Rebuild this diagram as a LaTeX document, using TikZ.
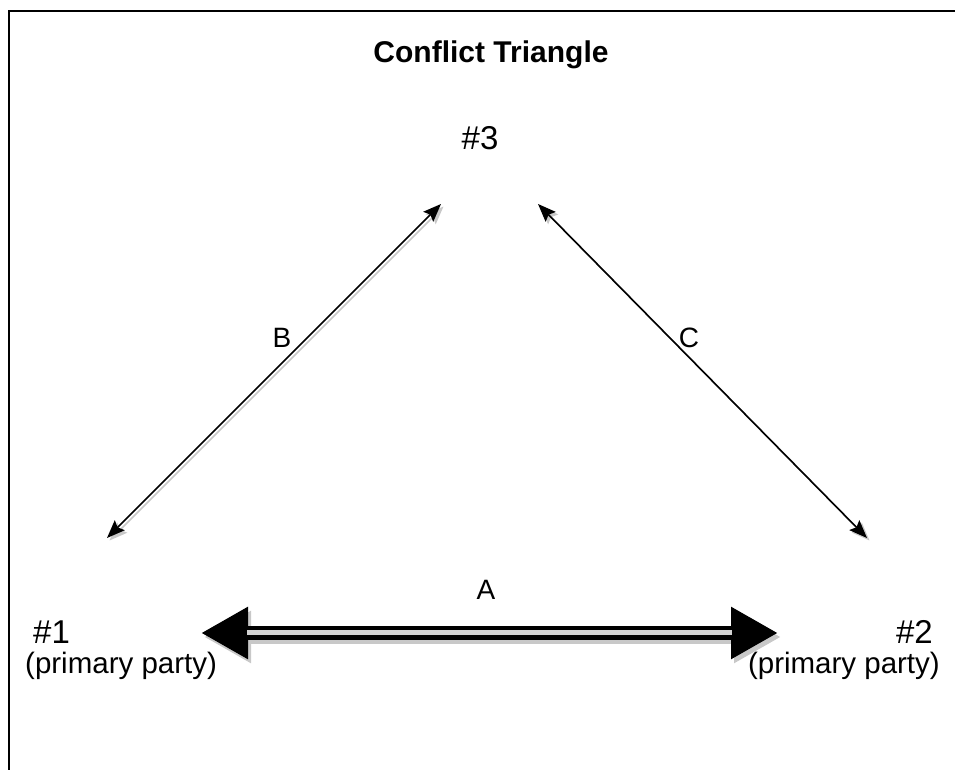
\documentclass[tikz,border=0pt]{standalone}
\usepackage{fontspec}
\setmainfont{Liberation Sans}
\usetikzlibrary{arrows.meta,positioning,calc}
\definecolor{ctShadow}{RGB}{200,200,200}
\definecolor{ctInner}{RGB}{210,210,210}
\tikzset{
    % Text labels
    ctTitle/.style={font=\fontsize{30}{34}\selectfont\bfseries, inner sep=0pt},
    ctParty/.style={font=\fontsize{33}{38}\selectfont, inner sep=0pt},
    ctSub/.style={font=\fontsize{29.5}{34}\selectfont, inner sep=0pt},
    ctLabel/.style={font=\fontsize{28}{32}\selectfont, inner sep=0pt},
    % Arrows
    ctThin/.style={{Stealth[length=18pt,width=14pt,inset=3pt]}-{Stealth[length=18pt,width=14pt,inset=3pt]}, line width=1.6pt, draw=black},
    ctThinShadow/.style={ctThin, draw=ctShadow, fill=ctShadow},
    ctThick/.style={{Triangle[length=47pt,width=49pt]}-{Triangle[length=47pt,width=49pt]}, line width=14pt, draw=black},
    ctThickShadow/.style={ctThick, draw=ctShadow}
}
\begin{document}
\begin{tikzpicture}[x=1pt,y=1pt]
\useasboundingbox (0,0) rectangle (955,770);
% Frame
\draw[line width=2pt] (9,0) -- (9,759) -- (955,759);

% Title and parties
\node[ctTitle] (title) at (491,715) {Conflict Triangle};
\node[ctParty] (p3) at (480,632) {\#3};
\node[ctParty, anchor=west] (p1) at (33,138) {\#1};
\node[ctSub, anchor=west] (p1s) at (25,104) {(primary party)};
\node[ctParty, anchor=east] (p2) at (933,138) {\#2};
\node[ctSub, anchor=east] (p2s) at (940,104) {(primary party)};

% Arrow ends
\coordinate (b1) at (107,232);
\coordinate (b3) at (441,566);
\coordinate (c3) at (538,566);
\coordinate (c2) at (867,232);
\coordinate (a1) at (201,137);
\coordinate (a2) at (778,137);

% B and C
\draw[ctThinShadow] ($(b1)+(2.5,-2.5)$) -- ($(b3)+(2.5,-2.5)$);
\draw[ctThin] (b1) -- (b3);
\draw[ctThinShadow] ($(c3)+(2.5,-2.5)$) -- ($(c2)+(2.5,-2.5)$);
\draw[ctThin] (c3) -- (c2);
\node[ctLabel] (lb) at (282,432) {B};
\node[ctLabel] (lc) at (689,432) {C};

% A
\draw[ctThickShadow] ($(a1)+(3,-4)$) -- ($(a2)+(3,-4)$);
\draw[ctThick] (a1) -- (a2);
\draw[line width=5pt, draw=ctInner, shorten <=46pt, shorten >=46pt] (a1) -- (a2);
\node[ctLabel] (la) at (486,180) {A};
\end{tikzpicture}
\end{document}
